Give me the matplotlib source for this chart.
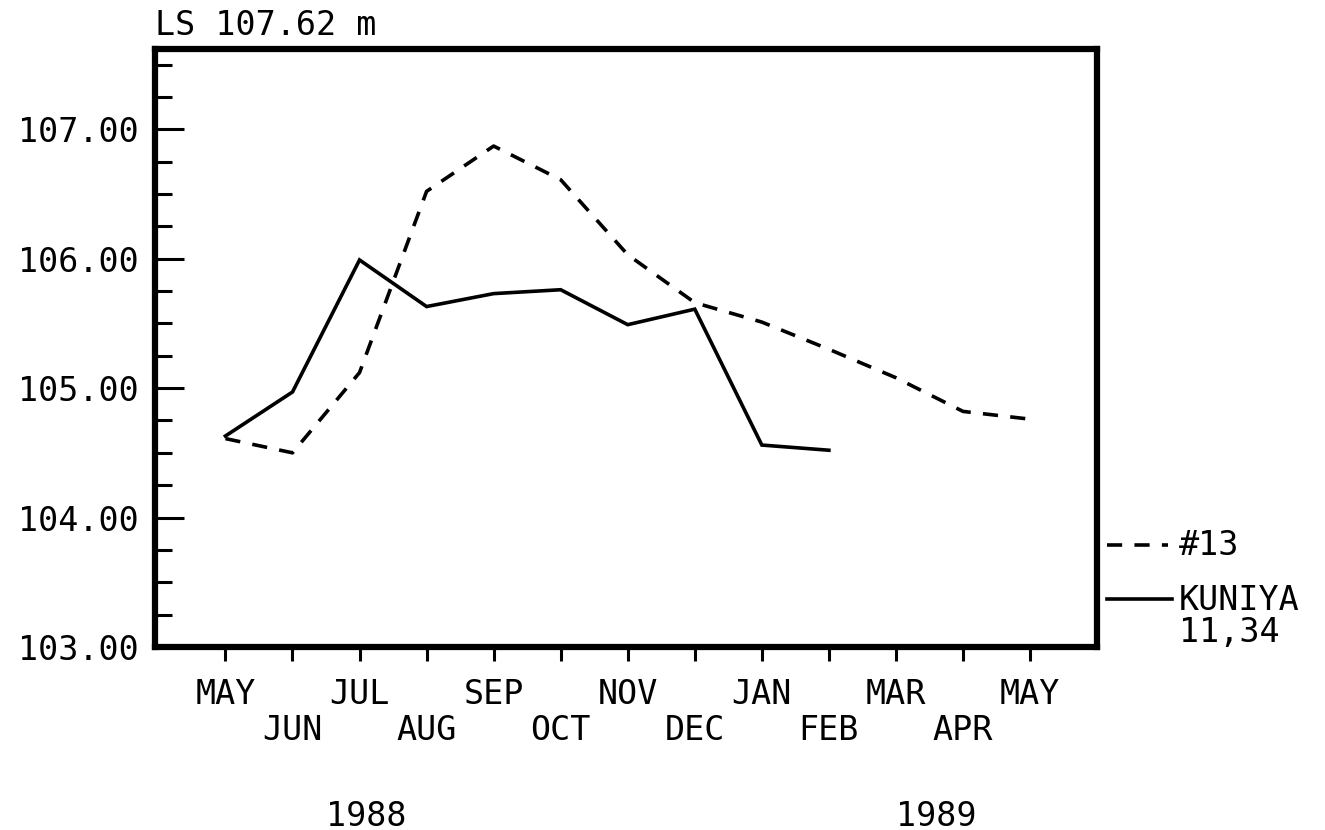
import matplotlib
matplotlib.use("Agg")
import matplotlib.pyplot as plt
from matplotlib.ticker import FixedLocator, MultipleLocator
from matplotlib.transforms import blended_transform_factory

# Monthly water levels (m), May 1988 - May 1989
months = ["MAY", "JUN", "JUL", "AUG", "SEP", "OCT", "NOV", "DEC",
          "JAN", "FEB", "MAR", "APR", "MAY"]
well_13 = [104.61, 104.50, 105.12, 106.52, 106.87, 106.61, 106.03,
           105.66, 105.51, 105.30, 105.08, 104.82, 104.76]
kuniya = [104.63, 104.97, 105.99, 105.63, 105.73, 105.76, 105.49,
          105.61, 104.56, 104.52]
y_ticks = [103.0, 104.0, 105.0, 106.0, 107.0]
ls_level = 107.62
years = ["1988", "1989"]

plt.rcParams["font.family"] = ["DejaVu Sans Mono", "DejaVu Sans"]
FS = 24

fig = plt.figure(figsize=(13.25, 8.3), dpi=100)
ax = fig.add_axes([0.117, 0.2205, 0.711, 0.7205])

x13 = list(range(len(well_13)))
xk = list(range(len(kuniya)))
ax.plot(x13, well_13, color="black", lw=2.6, linestyle=(0, (4.2, 3.4)),
        solid_joinstyle="miter")
ax.plot(xk, kuniya, color="black", lw=2.6, solid_joinstyle="miter")

ax.set_xlim(-1.05, 13.0)
ax.set_ylim(103.0, ls_level)

for s in ax.spines.values():
    s.set_linewidth(4.5)

# y axis: labelled majors every metre, minors every quarter metre, inward
ax.yaxis.set_major_locator(FixedLocator(y_ticks))
ax.yaxis.set_minor_locator(MultipleLocator(0.25))
ax.set_yticklabels([f"{v:.2f}" for v in y_ticks], fontsize=FS)
ax.tick_params(axis="y", which="major", direction="in", length=21,
               width=2.2, pad=12)
ax.tick_params(axis="y", which="minor", direction="in", length=12,
               width=2.2)

# x axis: months, alternating rows
ax.set_xticks(x13)
ax.set_xticklabels([m if i % 2 == 0 else "\n" + m
                    for i, m in enumerate(months)], fontsize=FS,
                   linespacing=1.12)
ax.tick_params(axis="x", which="major", direction="out", length=10,
               width=2.2, pad=12)
ax.tick_params(axis="x", which="minor", bottom=False)

# title at top-left
fig.text(155 / 1325, 1 - 35 / 830, f"LS {ls_level:.2f} m", fontsize=FS,
         ha="left", va="baseline")

# year labels under the month rows
trans = blended_transform_factory(ax.transData, fig.transFigure)
ax.text(2.1, 1 - 816 / 830, years[0], transform=trans, fontsize=FS,
        ha="center", va="center")
ax.text(10.6, 1 - 816 / 830, years[1], transform=trans, fontsize=FS,
        ha="center", va="center")

# key to the right of the plot
tA = ax.transAxes
ax.plot([1.011, 1.075], [0.170, 0.170], transform=tA, clip_on=False,
        color="black", lw=2.6, linestyle=(0, (4.2, 3.4)))
ax.text(1.087, 0.170, "#13", transform=tA, fontsize=FS, ha="left",
        va="center")
ax.plot([1.011, 1.080], [0.080, 0.080], transform=tA, clip_on=False,
        color="black", lw=2.6)
ax.text(1.087, 0.078, "KUNIYA", transform=tA, fontsize=FS, ha="left",
        va="center")
ax.text(1.087, 0.024, "11,34", transform=tA, fontsize=FS, ha="left",
        va="center")

fig.savefig("out.png", dpi=100, facecolor="white")
